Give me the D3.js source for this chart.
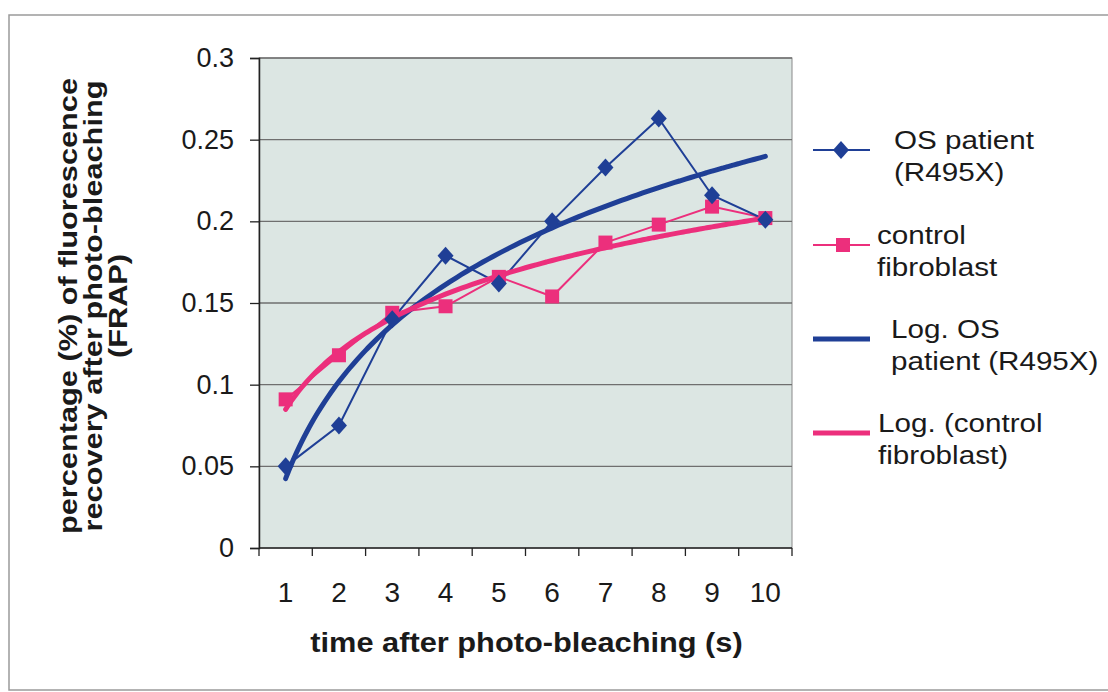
<!DOCTYPE html>
<html>
<head>
<meta charset="utf-8">
<script src="https://cdn.jsdelivr.net/npm/d3@7"></script>
<style>
  html, body { margin: 0; padding: 0; background: #ffffff; }
  svg { display: block; font-family: "Liberation Sans", Arial, sans-serif; }
</style>
</head>
<body>
<svg id="chart" width="1108" height="692"></svg>
<script>
// Time points (s) after photo-bleaching
const times = [1, 2, 3, 4, 5, 6, 7, 8, 9, 10];
// FRAP recovery, OS patient (R495X)
const osPatient = [0.050, 0.075, 0.140, 0.179, 0.162, 0.200, 0.233, 0.263, 0.216, 0.201];
// FRAP recovery, control fibroblast
const controlFibroblast = [0.091, 0.118, 0.144, 0.148, 0.166, 0.154, 0.187, 0.198, 0.209, 0.202];
// Y axis ticks
const yTicks = [0, 0.05, 0.1, 0.15, 0.2, 0.25, 0.3];

const blue = "#1f3f96";
const pink = "#ec2f7c";
const textWiden = 1.14; // horizontal stretch of the title and legend lettering

const svg = d3.select("#chart");

// outer frame
svg.append("rect")
  .attr("x", 9).attr("y", 15).attr("width", 1110).attr("height", 675)
  .attr("fill", "none").attr("stroke", "#9a9a9a").attr("stroke-width", 1.5);

const plot = { left: 259, right: 792, top: 58, bottom: 548 };

// category band for each time point; continuous scale for trend curves
const xBand = d3.scaleBand().domain(times).range([plot.left, plot.right]).padding(0);
const xCont = d3.scaleLinear()
  .domain([0.5, times.length + 0.5])
  .range([plot.left, plot.right]);
const xPos = t => xBand(t) + xBand.bandwidth() / 2;
const y = d3.scaleLinear().domain([0, 0.3]).range([plot.bottom, plot.top]);

// plot background
svg.append("rect")
  .attr("x", plot.left).attr("y", plot.top)
  .attr("width", plot.right - plot.left).attr("height", plot.bottom - plot.top)
  .attr("fill", "#dce6e3").attr("stroke", "#8a8a8a").attr("stroke-width", 1);

// horizontal gridlines
svg.append("g").selectAll("line")
  .data(yTicks.filter(d => d > 0))
  .join("line")
  .attr("x1", plot.left).attr("x2", plot.right)
  .attr("y1", d => y(d)).attr("y2", d => y(d))
  .attr("stroke", "#6f6f6f").attr("stroke-width", 1.3);

// y axis
const yAxis = d3.axisLeft(y).tickValues(yTicks).tickSize(9).tickPadding(16)
  .tickFormat(d => d === 0 ? "0" : String(+d.toFixed(2)));
const gy = svg.append("g").attr("transform", `translate(${plot.left},0)`).call(yAxis);
gy.select(".domain").attr("stroke", "#222").attr("stroke-width", 1.5);
gy.selectAll(".tick line").attr("stroke", "#222").attr("stroke-width", 1.3);
gy.selectAll(".tick text").attr("font-size", 27).attr("fill", "#1a1a1a")
  .attr("font-family", "Liberation Sans, Arial, sans-serif");

// x axis: ticks sit between categories
const gx = svg.append("g").attr("transform", `translate(0,${plot.bottom})`);
gx.append("line")
  .attr("x1", plot.left).attr("x2", plot.right)
  .attr("stroke", "#222").attr("stroke-width", 1.5);
const boundaries = times.map(t => xBand(t)).concat([plot.right]);
gx.selectAll("line.tk").data(boundaries).join("line").attr("class", "tk")
  .attr("x1", d => d).attr("x2", d => d).attr("y1", 0).attr("y2", 8)
  .attr("stroke", "#222").attr("stroke-width", 1.3);
gx.selectAll("text").data(times).join("text")
  .attr("x", d => xPos(d)).attr("y", 54)
  .attr("text-anchor", "middle").attr("font-size", 28).attr("fill", "#1a1a1a")
  .text(d => d);

// logarithmic least-squares trend: y = a ln(x) + b
function logFit(xs, ys) {
  const L = xs.map(Math.log);
  const mL = d3.mean(L), mY = d3.mean(ys);
  const a = d3.sum(L, (l, i) => (l - mL) * (ys[i] - mY)) / d3.sum(L, l => (l - mL) ** 2);
  return { a, b: mY - a * mL };
}
function trendPoints(ys) {
  const f = logFit(times, ys);
  const samples = d3.range(1, 10.0001, 0.1);
  return samples.map(t => [t, f.a * Math.log(t) + f.b]);
}
const trendLine = d3.line().x(d => xCont(d[0])).y(d => y(d[1])).curve(d3.curveMonotoneX);
const dataLine = d3.line().x((d, i) => xPos(times[i])).y(d => y(d));

const series = svg.append("g");

// data series lines
series.append("path").datum(controlFibroblast)
  .attr("d", dataLine).attr("fill", "none").attr("stroke", pink).attr("stroke-width", 2);
series.append("path").datum(osPatient)
  .attr("d", dataLine).attr("fill", "none").attr("stroke", blue).attr("stroke-width", 2);

// trend curves
series.append("path").datum(trendPoints(osPatient))
  .attr("d", trendLine).attr("fill", "none").attr("stroke", blue)
  .attr("stroke-width", 5).attr("stroke-linecap", "round");
series.append("path").datum(trendPoints(controlFibroblast))
  .attr("d", trendLine).attr("fill", "none").attr("stroke", pink)
  .attr("stroke-width", 5).attr("stroke-linecap", "round");

// markers
const sq = 14, dm = 9;
series.append("g").selectAll("rect").data(controlFibroblast).join("rect")
  .attr("x", (d, i) => xPos(times[i]) - sq / 2).attr("y", d => y(d) - sq / 2)
  .attr("width", sq).attr("height", sq).attr("fill", pink);
series.append("g").selectAll("path").data(osPatient).join("path")
  .attr("transform", (d, i) => `translate(${xPos(times[i])},${y(d)})`)
  .attr("d", `M0,${-dm}L${dm - 1},0L0,${dm}L${-(dm - 1)},0Z`).attr("fill", blue);

// axis titles
svg.append("text")
  .attr("transform", `translate(${(plot.left + plot.right) / 2 + 1},652) scale(${textWiden},1)`)
  .attr("text-anchor", "middle").attr("font-size", 27).attr("font-weight", "bold")
  .attr("fill", "#1a1a1a")
  .text("time after photo-bleaching (s)");

const yTitle = ["percentage (%) of fluorescence", "recovery after photo-bleaching", "(FRAP)"];
svg.append("g").selectAll("text").data(yTitle).join("text")
  .attr("transform", (d, i) => `translate(${77 + i * 25},306) rotate(-90) scale(1.23,1)`)
  .attr("text-anchor", "middle").attr("font-size", 25).attr("font-weight", "bold")
  .attr("fill", "#1a1a1a")
  .text(d => d);

// legend
const legendItems = [
  { lines: ["OS patient", "(R495X)"], color: blue, marker: "diamond", width: 2, y: 150, tx: 894 },
  { lines: ["control", "fibroblast"], color: pink, marker: "square", width: 2, y: 245, tx: 877 },
  { lines: ["Log. OS", "patient (R495X)"], color: blue, marker: null, width: 5, y: 339, tx: 891 },
  { lines: ["Log. (control", "fibroblast)"], color: pink, marker: null, width: 5, y: 433, tx: 878 }
];
const lg = svg.append("g").selectAll("g").data(legendItems).join("g");
lg.append("line")
  .attr("x1", 813).attr("x2", 870).attr("y1", d => d.y).attr("y2", d => d.y)
  .attr("stroke", d => d.color).attr("stroke-width", d => d.width);
lg.filter(d => d.marker === "diamond").append("path")
  .attr("transform", d => `translate(841,${d.y})`)
  .attr("d", `M0,${-dm}L${dm - 1},0L0,${dm}L${-(dm - 1)},0Z`).attr("fill", d => d.color);
lg.filter(d => d.marker === "square").append("rect")
  .attr("x", 843 - sq / 2).attr("y", d => d.y - sq / 2).attr("width", sq).attr("height", sq)
  .attr("fill", d => d.color);
lg.each(function(d) {
  const t = d3.select(this).append("text")
    .attr("transform", `translate(${d.tx},${d.y - 1}) scale(${textWiden},1)`)
    .attr("font-size", 26).attr("fill", "#1a1a1a");
  d.lines.forEach((s, i) => {
    t.append("tspan").attr("x", 0).attr("y", i * 32).text(s);
  });
});
</script>
</body>
</html>
